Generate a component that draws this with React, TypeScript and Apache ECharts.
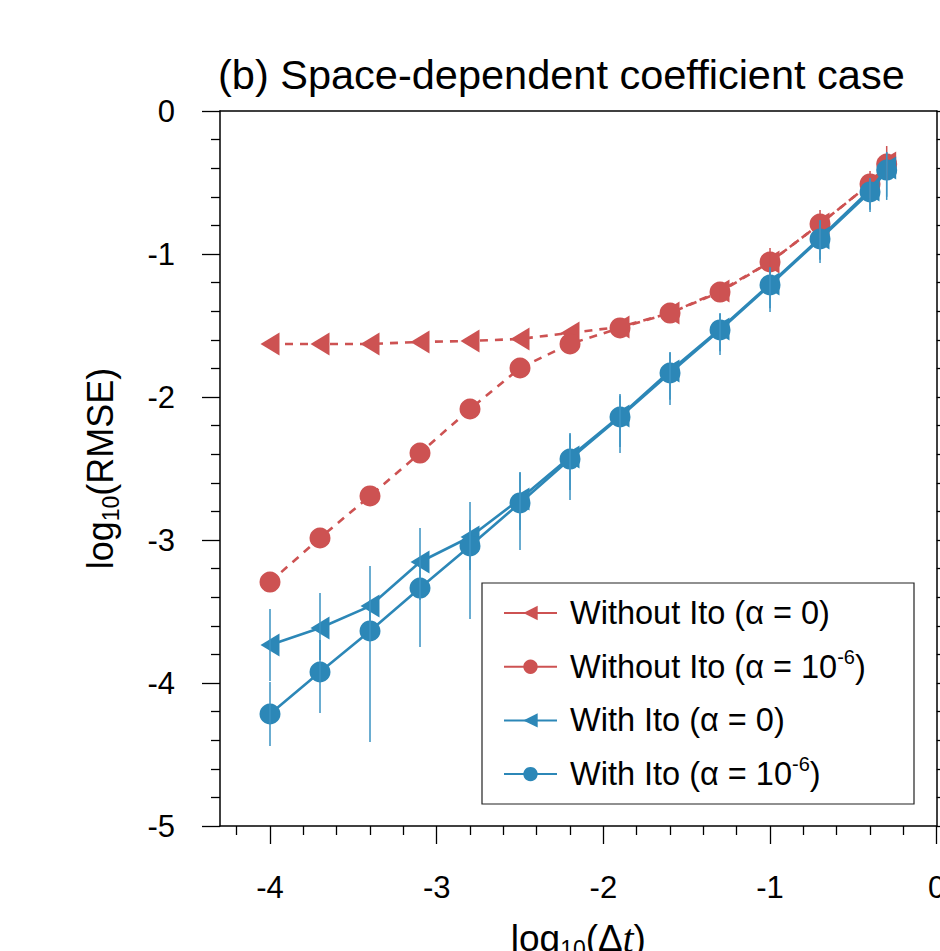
import React, { useEffect, useRef } from 'react';
import * as echarts from 'echarts';

// log10(Δt)
const xValues = [-4, -3.7, -3.4, -3.1, -2.8, -2.5, -2.2, -1.9, -1.6, -1.3, -1.0, -0.7, -0.4, -0.3];

// log10(RMSE)
const redTriangle = [-1.629, -1.629, -1.629, -1.615, -1.608, -1.594, -1.552, -1.51, -1.413, -1.259, -1.056, -0.79, -0.51, -0.364];
const redCircle = [-3.294, -2.986, -2.692, -2.392, -2.084, -1.797, -1.629, -1.517, -1.413, -1.266, -1.056, -0.79, -0.51, -0.371];
const blueTriangle = [-3.734, -3.615, -3.462, -3.154, -2.979, -2.713, -2.42, -2.133, -1.818, -1.524, -1.21, -0.888, -0.552, -0.399];
const blueCircle = [-4.217, -3.923, -3.636, -3.336, -3.042, -2.741, -2.434, -2.14, -1.832, -1.531, -1.217, -0.895, -0.566, -0.413];

// error bar ranges (upper, lower)
const blueTriangleHi = [-3.483, -3.371, -3.182, -2.916, -2.734, -2.53, -2.26, -1.99, -1.69, -1.42, -1.10, -0.77, -0.47, -0.29];
const blueTriangleLo = [-3.986, -3.839, -3.699, -3.42, -3.21, -2.93, -2.65, -2.35, -2.02, -1.68, -1.38, -1.04, -0.69, -0.6];
const blueCircleHi = [-3.993, -3.699, -3.42, -3.14, -2.86, -2.524, -2.252, -1.979, -1.685, -1.413, -1.091, -0.762, -0.469, -0.287];
const blueCircleLo = [-4.441, -4.21, -4.413, -3.748, -3.552, -3.07, -2.72, -2.392, -2.056, -1.706, -1.406, -1.063, -0.706, -0.622];
const redCircleHi = [null, null, null, null, null, null, null, null, null, -1.196, -0.958, -0.692, -0.42, -0.245];
const redCircleLo = [null, null, null, null, null, null, null, null, null, -1.322, -1.154, -0.888, -0.608, -0.483];

const xTickLabels = [-4, -3, -2, -1, 0];
const xMinorTicks = [-4.2, -3.8, -3.6, -3.4, -3.2, -2.8, -2.6, -2.4, -2.2, -1.8, -1.6, -1.4, -1.2, -0.8, -0.6, -0.4, -0.2];

const seriesNames = [
  'Without Ito (α = 0)',
  'Without Ito (α = 10-6)',
  'With Ito (α = 0)',
  'With Ito (α = 10-6)',
];

const RED = '#CD5252';
const BLUE = '#2C87B7';
const BAR_BLUE = '#3A92C2';
const FONT = 'Liberation Sans';

const pairs = (ys: number[]) => xValues.map((x, i) => [x, ys[i]]);
const bars = (hi: (number | null)[], lo: (number | null)[]) =>
  xValues
    .map((x, i) => (hi[i] == null || lo[i] == null ? null : [x, hi[i], lo[i]]))
    .filter((d) => d !== null);

const errorSeries = (data: any[], color: string) => ({
  type: 'custom',
  xAxisIndex: 0,
  yAxisIndex: 0,
  data,
  encode: { x: 0, y: [1, 2] },
  z: 5,
  silent: true,
  renderItem: (params: any, api: any) => {
    const p1 = api.coord([api.value(0), api.value(1)]);
    const p2 = api.coord([api.value(0), api.value(2)]);
    return {
      type: 'line',
      shape: { x1: p1[0], y1: p1[1], x2: p2[0], y2: p2[1] },
      style: { stroke: color, lineWidth: 1.5 },
    };
  },
});

export default function App() {
  const ref = useRef<HTMLDivElement>(null);
  useEffect(() => {
    if (!ref.current) return;
    const chart = echarts.init(ref.current, undefined, { renderer: 'svg' });
    const axisLineStyle = { color: '#000', width: 1.5 };
    const tickStyle = { color: '#000', width: 1.3 };
    const option: any = {
      animation: false,
      backgroundColor: '#fff',
      textStyle: { fontFamily: FONT },
      title: {
        text: '(b) Space-dependent coefficient case',
        left: 218,
        top: 53,
        padding: 0,
        textStyle: { fontFamily: FONT, fontSize: 41.5, fontWeight: 'normal', color: '#000' },
      },
      grid: { left: 220, top: 111, width: 716.7, height: 715, outerBoundsMode: 'none' },
      legend: {
        orient: 'vertical',
        left: 503,
        top: 593,
        padding: 0,
        itemWidth: 53,
        itemHeight: 18,
        itemGap: 13.7,
        symbolRotate: 'inherit',
        lineStyle: { type: 'solid' },
        data: seriesNames,
        formatter: (name: string) => name.replace('10-6', '10{sup|-6}'),
        textStyle: {
          fontFamily: FONT,
          fontSize: 32.5,
          lineHeight: 40,
          color: '#000',
          padding: [0, 0, 0, 8],
          rich: {
            sup: { fontFamily: FONT, fontSize: 20, lineHeight: 24, verticalAlign: 'top', color: '#000' },
          },
        },
      },
      graphic: [
        {
          type: 'rect',
          shape: { x: 482, y: 583, width: 432, height: 221 },
          style: { fill: 'none', stroke: '#222', lineWidth: 1.2 },
          z: 10,
          silent: true,
        },
      ],
      xAxis: [
        {
          type: 'value',
          min: -4.3,
          max: 0,
          position: 'bottom',
          axisLine: { show: true, onZero: false, lineStyle: axisLineStyle },
          axisTick: { show: true, length: 18, customValues: xTickLabels, lineStyle: tickStyle },
          axisLabel: { customValues: xTickLabels, fontSize: 31, margin: 46, color: '#000', fontFamily: FONT },
          splitLine: { show: false },
          name: 'log{sub|10}(Δ{it|t})',
          nameLocation: 'middle',
          nameGap: 94,
          nameTextStyle: {
            fontFamily: FONT,
            fontSize: 37,
            lineHeight: 36,
            color: '#000',
            rich: {
              sub: { fontFamily: FONT, fontSize: 23, lineHeight: 36, verticalAlign: 'top', padding: [17, 0, 0, 0], color: '#000' },
              it: { fontFamily: 'Liberation Serif', fontStyle: 'italic', fontSize: 39, lineHeight: 36, color: '#000' },
            },
          },
        },
        {
          type: 'value',
          min: -4.3,
          max: 0,
          position: 'bottom',
          axisLine: { show: false, onZero: false },
          axisTick: { show: true, length: 9, customValues: xMinorTicks, lineStyle: tickStyle },
          axisLabel: { show: false },
          splitLine: { show: false },
        },
        {
          type: 'value',
          min: -4.3,
          max: 0,
          position: 'top',
          axisLine: { show: true, onZero: false, lineStyle: axisLineStyle },
          axisTick: { show: false },
          axisLabel: { show: false },
          splitLine: { show: false },
        },
      ],
      yAxis: [
        {
          type: 'value',
          min: -5,
          max: 0,
          interval: 1,
          position: 'left',
          axisLine: { show: true, onZero: false, lineStyle: axisLineStyle },
          axisTick: { show: true, length: 18, lineStyle: tickStyle },
          minorTick: { show: true, splitNumber: 5, length: 9, lineStyle: tickStyle },
          axisLabel: { fontSize: 31, margin: 45, color: '#000', fontFamily: FONT },
          splitLine: { show: false },
          minorSplitLine: { show: false },
          name: 'log{sub|10}(RMSE)',
          nameLocation: 'middle',
          nameGap: 102,
          nameTextStyle: {
            fontFamily: FONT,
            fontSize: 36,
            lineHeight: 36,
            color: '#000',
            rich: {
              sub: { fontFamily: FONT, fontSize: 23, lineHeight: 36, verticalAlign: 'top', padding: [17, 0, 0, 0], color: '#000' },
            },
          },
        },
        {
          type: 'value',
          min: -5,
          max: 0,
          interval: 1,
          position: 'right',
          axisLine: { show: true, onZero: false, lineStyle: axisLineStyle },
          axisTick: { show: true, length: 18, lineStyle: tickStyle },
          minorTick: { show: true, splitNumber: 5, length: 9, lineStyle: tickStyle },
          axisLabel: { show: false },
          splitLine: { show: false },
          minorSplitLine: { show: false },
        },
      ],
      series: [
        {
          name: seriesNames[0],
          type: 'line',
          data: pairs(redTriangle),
          symbol: 'triangle',
          symbolRotate: 90,
          symbolSize: [23, 19],
          color: RED,
          itemStyle: { color: RED },
          lineStyle: { color: RED, width: 2.6, type: [8, 7] },
          z: 2,
        },
        {
          name: seriesNames[1],
          type: 'line',
          data: pairs(redCircle),
          symbol: 'circle',
          symbolSize: 21,
          color: RED,
          itemStyle: { color: RED },
          lineStyle: { color: RED, width: 2.6, type: [8, 7] },
          z: 2,
        },
        errorSeries(bars(redCircleHi, redCircleLo), RED),
        {
          name: seriesNames[2],
          type: 'line',
          data: pairs(blueTriangle),
          symbol: 'triangle',
          symbolRotate: 90,
          symbolSize: [23, 19],
          color: BLUE,
          itemStyle: { color: BLUE },
          lineStyle: { color: BLUE, width: 2.6 },
          z: 3,
        },
        {
          name: seriesNames[3],
          type: 'line',
          data: pairs(blueCircle),
          symbol: 'circle',
          symbolSize: 21,
          color: BLUE,
          itemStyle: { color: BLUE },
          lineStyle: { color: BLUE, width: 2.6 },
          z: 3,
        },
        errorSeries(bars(blueTriangleHi, blueTriangleLo), BAR_BLUE),
        errorSeries(bars(blueCircleHi, blueCircleLo), BAR_BLUE),
      ],
    };
    chart.setOption(option);
    return () => chart.dispose();
  }, []);
  return <div ref={ref} style={{ position: 'absolute', left: 0, top: 0, width: 940, height: 951 }} />;
}
